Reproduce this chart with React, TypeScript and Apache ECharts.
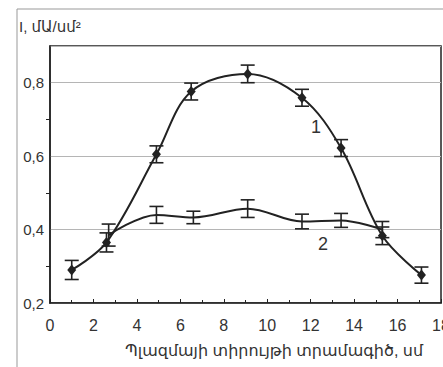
import React, { useEffect, useRef } from "react";
import * as echarts from "echarts";

const curve1X = [1.0, 2.6, 4.9, 6.5, 9.1, 11.6, 13.4, 15.3, 17.1];
const curve1Y = [0.29, 0.365, 0.605, 0.776, 0.824, 0.759, 0.622, 0.383, 0.276];
const curve1Err = [0.026, 0.026, 0.023, 0.023, 0.024, 0.023, 0.023, 0.024, 0.022];

const curve2X = [2.7, 4.9, 6.6, 9.1, 11.6, 13.4, 15.3];
const curve2Y = [0.385, 0.44, 0.433, 0.457, 0.422, 0.425, 0.4];
const curve2Err = [0.03, 0.023, 0.017, 0.024, 0.02, 0.019, 0.022];

const yTitle = "I, մԱ/սմ²";
const xTitle = "Պլազմայի տիրույթի տրամագիծ, սմ";
const curveLabels = ["1", "2"];

const FONT = "'Liberation Sans', 'DejaVu Sans', Arial, sans-serif";
const INK = "#222";

function errorSeries(xs: number[], ys: number[], es: number[]) {
  return {
    type: "custom",
    z: 5,
    data: xs.map((x, i) => [x, ys[i] - es[i], ys[i] + es[i]]),
    renderItem: (params: any, api: any) => {
      const lo = api.coord([api.value(0), api.value(1)]);
      const hi = api.coord([api.value(0), api.value(2)]);
      const hw = 7;
      const style = { stroke: INK, lineWidth: 1.6 };
      return {
        type: "group",
        children: [
          { type: "line", shape: { x1: lo[0], y1: lo[1], x2: hi[0], y2: hi[1] }, style },
          { type: "line", shape: { x1: lo[0] - hw, y1: lo[1], x2: lo[0] + hw, y2: lo[1] }, style },
          { type: "line", shape: { x1: hi[0] - hw, y1: hi[1], x2: hi[0] + hw, y2: hi[1] }, style },
        ],
      };
    },
  };
}

export default function App() {
  const ref = useRef<HTMLDivElement>(null);
  useEffect(() => {
    if (!ref.current) return;
    const chart = echarts.init(ref.current, null, { renderer: "svg" });
    chart.setOption({
      animation: false,
      backgroundColor: "#fff",
      grid: {
        left: 50,
        right: 2,
        top: 46,
        bottom: 64,
        show: true,
        borderColor: INK,
        borderWidth: 1.5,
        backgroundColor: "transparent",
        containLabel: false,
        outerBoundsMode: "none",
      },
      xAxis: {
        type: "value",
        min: 0,
        max: 18,
        interval: 2,
        axisLine: { show: true, lineStyle: { color: INK, width: 1.5 } },
        axisTick: { show: true, inside: true, length: 4, lineStyle: { color: INK } },
        minorTick: { show: true, splitNumber: 2, length: 3, lineStyle: { color: INK } },
        splitLine: { show: false },
        axisLabel: {
          color: "#333",
          fontSize: 16,
          fontFamily: FONT,
          margin: 14,
          showMaxLabel: true,
          hideOverlap: false,
        },
      },
      yAxis: {
        type: "value",
        min: 0.2,
        max: 0.9,
        interval: 0.2,
        axisLine: { show: true, lineStyle: { color: INK, width: 1.5 } },
        axisTick: { show: false },
        minorTick: { show: true, splitNumber: 2, length: 4, lineStyle: { color: INK } },
        splitLine: { show: true, lineStyle: { color: "#b5b5b5", width: 1 } },
        axisLabel: {
          color: "#333",
          fontSize: 15,
          fontFamily: FONT,
          margin: 6,
          formatter: (v: number) => (v > 0.85 ? "" : v.toFixed(1).replace(".", ",")),
        },
      },
      series: [
        {
          type: "line",
          data: curve1X.map((x, i) => [x, curve1Y[i]]),
          smooth: 0.35,
          symbol: "diamond",
          symbolSize: [9, 11],
          itemStyle: { color: INK },
          lineStyle: { color: INK, width: 2 },
          z: 4,
        },
        {
          type: "line",
          data: curve2X.map((x, i) => [x, curve2Y[i]]),
          smooth: 0.35,
          symbol: "none",
          lineStyle: { color: INK, width: 2 },
          z: 4,
        },
        errorSeries(curve1X, curve1Y, curve1Err),
        errorSeries(curve2X, curve2Y, curve2Err),
      ],
      graphic: [
        { type: "line", shape: { x1: 17, y1: 9, x2: 443, y2: 9 }, style: { stroke: "#999", lineWidth: 1 } },
        { type: "line", shape: { x1: 17, y1: 9, x2: 17, y2: 367 }, style: { stroke: "#999", lineWidth: 1 } },
        {
          type: "text",
          left: 19,
          top: 19,
          style: { text: yTitle, fontSize: 15, fontFamily: FONT, fill: "#333" },
        },
        {
          type: "text",
          left: 125,
          top: 342,
          style: { text: xTitle, fontSize: 16, fontFamily: FONT, fill: "#333" },
        },
        {
          type: "text",
          left: 311,
          top: 118,
          style: { text: curveLabels[0], fontSize: 18, fontFamily: FONT, fill: "#333" },
        },
        {
          type: "text",
          left: 318,
          top: 235,
          style: { text: curveLabels[1], fontSize: 18, fontFamily: FONT, fill: "#333" },
        },
      ],
    });
    return () => chart.dispose();
  }, []);
  return (
    <div
      ref={ref}
      style={{ position: "fixed", left: 0, top: 0, width: 443, height: 367 }}
    />
  );
}
